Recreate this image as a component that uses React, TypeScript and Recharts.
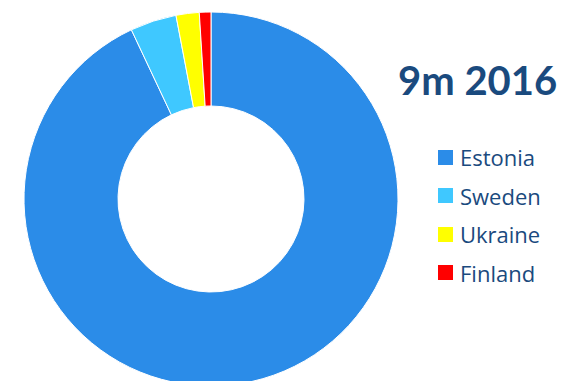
import { PieChart, Pie, Cell, Legend } from "recharts";

const countries = ["Estonia", "Sweden", "Ukraine", "Finland"];
const shares = [93, 4, 2, 1];
const colors = ["#2B8CE8", "#3FC8FF", "#FFFF00", "#FF0000"];
const title = "9m 2016";

const data = countries.map((name, i) => ({ name, value: shares[i] }));

const textColor = "#1A4A7E";

const renderLegend = () => (
  <div style={{ fontFamily: "'Open Sans', sans-serif" }}>
    {data.map((d, i) => (
      <div
        key={d.name}
        style={{ display: "flex", alignItems: "center", height: 38.5 }}
      >
        <span
          style={{
            width: 15,
            height: 15,
            background: colors[i],
            marginRight: 7,
            display: "inline-block",
          }}
        />
        <span style={{ fontSize: 22, color: textColor }}>{d.name}</span>
      </div>
    ))}
  </div>
);

export default function App() {
  return (
    <div
      style={{
        position: "absolute",
        left: 0,
        top: 0,
        width: 575,
        height: 381,
        overflow: "hidden",
        background: "#fff",
      }}
    >
      <div
        style={{
          position: "absolute",
          left: 398,
          top: 52,
          fontFamily: "Lato, 'Open Sans', sans-serif",
          fontWeight: 700,
          fontSize: 40,
          color: textColor,
          lineHeight: "56px",
          whiteSpace: "nowrap",
        }}
      >
        {title}
      </div>
      <PieChart
        width={575}
        height={381}
        margin={{ top: 0, right: 0, bottom: 0, left: 0 }}
      >
        <Pie
          data={data}
          dataKey="value"
          nameKey="name"
          cx={211}
          cy={199}
          innerRadius={93}
          outerRadius={187}
          startAngle={90}
          endAngle={-270}
          stroke="#fff"
          strokeWidth={1}
          isAnimationActive={false}
        >
          {data.map((d, i) => (
            <Cell key={d.name} fill={colors[i]} />
          ))}
        </Pie>
        <Legend
          content={renderLegend}
          layout="vertical"
          wrapperStyle={{ position: "absolute", left: 438, top: 138, width: 135 }}
        />
      </PieChart>
    </div>
  );
}
